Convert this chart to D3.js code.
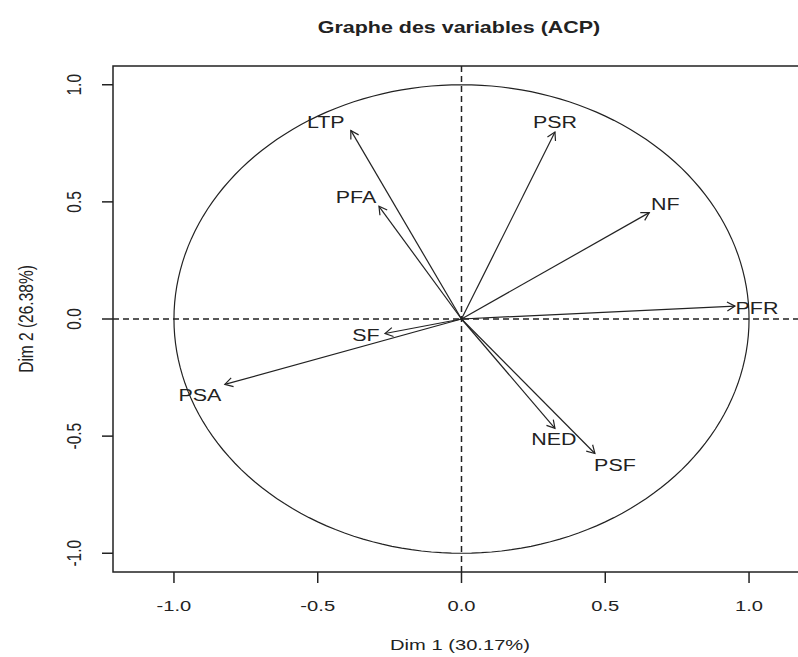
<!DOCTYPE html>
<html>
<head>
<meta charset="utf-8">
<script src="https://cdn.jsdelivr.net/npm/d3@7"></script>
<style>
  body { margin: 0; background: #fff; }
  text { font-family: "Liberation Sans", Arial, sans-serif; fill: #222; }
</style>
</head>
<body>
<div id="chart"></div>
<script>
// variable coordinates on the first two dimensions
const variables = ['LTP', 'PFA', 'PSR', 'NF', 'PFR', 'PSA', 'SF', 'NED', 'PSF'];
const dim1 = [-0.385, -0.287, 0.325, 0.653, 0.951, -0.823, -0.266, 0.325, 0.464];
const dim2 = [0.805, 0.481, 0.798, 0.454, 0.055, -0.279, -0.062, -0.467, -0.574];
const xTicks = [-1.0, -0.5, 0.0, 0.5, 1.0];
const yTicks = [-1.0, -0.5, 0.0, 0.5, 1.0];

// label offsets from the arrow tip (px), like R's auto placement
const labelShift = {
  LTP: [-25, -8], PFA: [-23, -9], PSR: [0, -10], NF: [16, -8], PFR: [22, 2],
  PSA: [-25, 11], SF: [-19, 2], NED: [-1, 11], PSF: [20, 12]
};

const width = 798, height = 657;
const sx = 1.3; // the picture is stretched horizontally
const margin = { top: 66, right: -12, bottom: 85, left: 113 };

const svg = d3.select('#chart').append('svg')
  .attr('width', width)
  .attr('height', height);

const x = d3.scaleLinear()
  .domain([-1.212, 1.212])
  .range([margin.left, width - margin.right]);

const y = d3.scaleLinear()
  .domain([-1.08, 1.08])
  .range([height - margin.bottom, margin.top]);

// R prints a plain hyphen for negatives
const fmt = t => d3.format('.1f')(t).replace('\u2212', '-');

// stretched text helper
function stext(g, tx, ty, str, size, rot) {
  return g.append('text')
    .attr('transform', `translate(${tx},${ty}) scale(${sx},1)` + (rot ? ` rotate(${rot})` : ''))
    .attr('text-anchor', 'middle')
    .attr('dominant-baseline', 'central')
    .style('font-size', size + 'px')
    .text(str);
}

const plot = svg.append('g');

// dashed axes through the origin
plot.append('line')
  .attr('x1', x(0)).attr('x2', x(0))
  .attr('y1', y.range()[1]).attr('y2', y.range()[0])
  .attr('stroke', '#222').attr('stroke-width', 1.5)
  .attr('stroke-dasharray', '6,4');
plot.append('line')
  .attr('x1', x.range()[0]).attr('x2', x.range()[1])
  .attr('y1', y(0)).attr('y2', y(0))
  .attr('stroke', '#222').attr('stroke-width', 1.5)
  .attr('stroke-dasharray', '6,4');

// correlation circle
const circle = d3.range(0, 361, 2).map(a => [Math.cos(a * Math.PI / 180), Math.sin(a * Math.PI / 180)]);
plot.append('path')
  .attr('d', d3.line().x(d => x(d[0])).y(d => y(d[1]))(circle))
  .attr('fill', 'none')
  .attr('stroke', '#222')
  .attr('stroke-width', 1.2);

// arrows
const arrows = plot.append('g')
  .attr('stroke', '#222')
  .attr('stroke-width', 1.2)
  .attr('fill', 'none');

variables.forEach((v, i) => {
  const x0 = x(0), y0 = y(0);
  const x1 = x(dim1[i]), y1 = y(dim2[i]);
  const ang = Math.atan2(y1 - y0, x1 - x0);
  const hl = 9, ha = Math.PI / 6;
  arrows.append('line')
    .attr('x1', x0).attr('y1', y0)
    .attr('x2', x1).attr('y2', y1);
  arrows.append('path')
    .attr('d', `M${x1 - hl * Math.cos(ang - ha)},${y1 - hl * Math.sin(ang - ha)}` +
      `L${x1},${y1}L${x1 - hl * Math.cos(ang + ha)},${y1 - hl * Math.sin(ang + ha)}`);

  const [dx, dy] = labelShift[v];
  stext(plot, x1 + dx, y1 + dy, v, 16.5);
});

// box
svg.append('rect')
  .attr('x', x.range()[0])
  .attr('y', y.range()[1])
  .attr('width', x.range()[1] - x.range()[0])
  .attr('height', y.range()[0] - y.range()[1])
  .attr('fill', 'none')
  .attr('stroke', '#222')
  .attr('stroke-width', 1.5);

// x axis
const xAxis = svg.append('g');
xTicks.forEach(t => {
  xAxis.append('line')
    .attr('x1', x(t)).attr('x2', x(t))
    .attr('y1', y.range()[0]).attr('y2', y.range()[0] + 11)
    .attr('stroke', '#222').attr('stroke-width', 1.5);
  stext(xAxis, x(t), 606, fmt(t), 15.5);
});

// y axis
const yAxis = svg.append('g');
yTicks.forEach(t => {
  yAxis.append('line')
    .attr('x1', x.range()[0] - 11).attr('x2', x.range()[0])
    .attr('y1', y(t)).attr('y2', y(t))
    .attr('stroke', '#222').attr('stroke-width', 1.5);
  stext(yAxis, 74, y(t), fmt(t), 15.5, -90);
});

// axis titles
stext(svg, 460, 645, 'Dim 1 (30.17%)', 15.5);
stext(svg, 26, y(0), 'Dim 2 (26.38%)', 15.5, -90);

// title
stext(svg, 459, 27, 'Graphe des variables (ACP)', 16.5)
  .style('font-weight', 'bold');
</script>
</body>
</html>
